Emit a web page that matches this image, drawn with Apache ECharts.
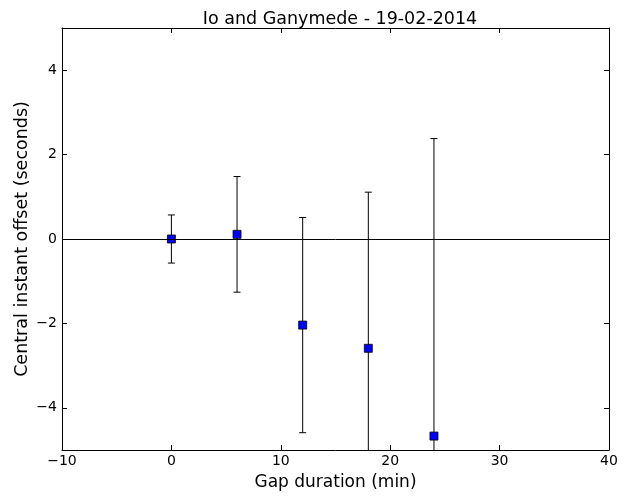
<!DOCTYPE html>
<html>
<head>
<meta charset="utf-8">
<script src="https://cdn.jsdelivr.net/npm/echarts@6/dist/echarts.min.js"></script>
<style>
  html, body { margin: 0; padding: 0; background: #fff; }
  #chart { width: 629px; height: 496px; }
</style>
</head>
<body>
<div id="chart"></div>
<script>
// gap durations (min), central offset (s) and symmetric error (s)
var gaps = [0, 6, 12, 18, 24];
var offsets = [0.0, 0.11, -2.04, -2.59, -4.67];
var errors = [0.57, 1.37, 2.55, 3.70, 7.05];

var xTicks = [-10, 0, 10, 20, 30, 40];
var yTicks = [-4, -2, 0, 2, 4];

var FONT = 'DejaVu Sans';
function minus(v) { return String(v).replace('-', '\u2212'); }

var points = [], bars = [];
for (var i = 0; i < gaps.length; i++) {
    points.push([gaps[i], offsets[i]]);
    bars.push([gaps[i], offsets[i] - errors[i], offsets[i] + errors[i]]);
}

function xAxisOpt(pos, labels) {
    return {
        type: 'value', position: pos, min: -10, max: 40,
        axisLine: { show: true, onZero: false, lineStyle: { color: '#000', width: 1 } },
        axisTick: { show: true, inside: true, length: 5, customValues: xTicks, lineStyle: { color: '#000' } },
        axisLabel: { show: labels, customValues: xTicks, formatter: minus, color: '#000', fontFamily: FONT, fontSize: 14, margin: 4 },
        splitLine: { show: false }
    };
}
function yAxisOpt(pos, labels) {
    return {
        type: 'value', position: pos, min: -5, max: 5,
        axisLine: { show: true, onZero: false, lineStyle: { color: '#000', width: 1 } },
        axisTick: { show: true, inside: true, length: 5, customValues: yTicks, lineStyle: { color: '#000' } },
        axisLabel: { show: labels, customValues: yTicks, formatter: minus, color: '#000', fontFamily: FONT, fontSize: 14, margin: 5 },
        splitLine: { show: false }
    };
}

var xa = xAxisOpt('bottom', true);
xa.name = 'Gap duration (min)';
xa.nameLocation = 'middle';
xa.nameGap = 24;
xa.nameMoveOverlap = false;
xa.nameTextStyle = { color: '#000', fontFamily: FONT, fontSize: 17 };
var ya = yAxisOpt('left', true);
ya.name = 'Central instant offset (seconds)';
ya.nameLocation = 'middle';
ya.nameGap = 31;
ya.nameMoveOverlap = false;
ya.nameTextStyle = { color: '#000', fontFamily: FONT, fontSize: 17.5 };

var chart = echarts.init(document.getElementById('chart'), null, { renderer: 'canvas' });
chart.setOption({
    animation: false,
    title: {
        text: 'Io and Ganymede - 19-02-2014',
        left: 335, top: 5, textAlign: 'center',
        textStyle: { color: '#000', fontFamily: FONT, fontSize: 17.5, fontWeight: 'normal' }
    },
    grid: { left: 62, right: 20, top: 28, bottom: 44 },
    xAxis: [xa, xAxisOpt('top', false)],
    yAxis: [ya, yAxisOpt('right', false)],
    series: [
        {
            type: 'custom',
            data: bars,
            z: 2,
            silent: true,
            renderItem: function (params, api) {
                var x = api.value(0);
                var lo = api.coord([x, api.value(1)]);
                var hi = api.coord([x, api.value(2)]);
                var top = params.coordSys.y, bottom = params.coordSys.y + params.coordSys.height;
                var y1 = Math.max(top, Math.min(bottom, hi[1]));
                var y2 = Math.max(top, Math.min(bottom, lo[1]));
                var cap = 3.5;
                var style = { stroke: '#000', lineWidth: 1 };
                var kids = [{ type: 'line', shape: { x1: lo[0], y1: y1, x2: lo[0], y2: y2 }, style: style }];
                if (hi[1] >= top) kids.push({ type: 'line', shape: { x1: hi[0] - cap, y1: hi[1], x2: hi[0] + cap, y2: hi[1] }, style: style });
                if (lo[1] <= bottom) kids.push({ type: 'line', shape: { x1: lo[0] - cap, y1: lo[1], x2: lo[0] + cap, y2: lo[1] }, style: style });
                return { type: 'group', children: kids };
            }
        },
        {
            type: 'scatter',
            data: points,
            symbol: 'rect',
            symbolSize: 8,
            z: 3,
            itemStyle: { color: '#0000ff', borderColor: '#000', borderWidth: 0.8, opacity: 1 },
            markLine: {
                silent: true,
                symbol: 'none',
                label: { show: false },
                lineStyle: { color: '#000', width: 1, type: 'solid' },
                data: [{ yAxis: 0 }]
            }
        }
    ]
});
</script>
</body>
</html>
